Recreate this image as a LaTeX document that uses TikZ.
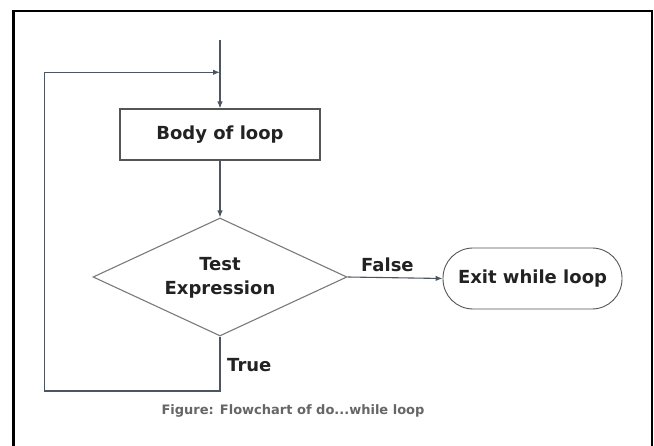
\documentclass[tikz,border=0pt]{standalone}
\usepackage{fontspec}
\setmainfont{DejaVu Sans}
\usetikzlibrary{shapes.geometric,arrows.meta}
\definecolor{flowline}{HTML}{4E5562}
\definecolor{shapeline}{HTML}{555555}
\definecolor{diamline}{HTML}{7A7A7A}
\definecolor{labeltext}{HTML}{222222}
\definecolor{captiontext}{HTML}{666666}
\tikzset{
  flow/.style={draw=flowline, line width=1.1pt},
  arr/.style={flow, -{Latex[length=7pt,width=5.5pt]}},
  lbl/.style={font=\fontsize{18}{21}\selectfont\bfseries, text=labeltext, inner sep=0pt},
  bodybox/.style={draw=shapeline, line width=1.1pt, minimum width=200pt, minimum height=51pt, inner sep=0pt},
  testdiamond/.style={draw=diamline, line width=1.1pt, diamond, aspect=2.15, minimum width=254pt, minimum height=118pt, inner sep=0pt},
  exitbox/.style={draw=shapeline, line width=0.9pt, rounded corners=30pt, minimum width=179pt, minimum height=61pt, inner sep=0pt},
}
\begin{document}
\begin{tikzpicture}[x=1pt, y=-1pt]
  \useasboundingbox (0,0) rectangle (654,446);
  % outer frame, open at the bottom
  \draw[black, line width=2.6pt] (13.3,446) -- (13.3,11) -- (652,11) -- (652,446);

  % shapes
  \node[bodybox] (body) at (220,134.5) {};
  \node[lbl] at (body.center) {Body of loop};
  \node[testdiamond] (test) at (220,277) {};
  \node[lbl, align=center] at (220,278) {Test\\[3pt]Expression};
  \node[exitbox] (exit) at (532.5,278.5) {};
  \node[lbl] at (exit.center) {Exit while loop};

  % connectors
  \coordinate (entry) at (220,40);
  \coordinate (join) at (220,72.3);
  \coordinate (loopbot) at (220,391);
  \coordinate (loopleft) at (44.3,391);
  \coordinate (looptop) at (44.3,72.3);
  \draw[arr] (entry) -- (body.north);
  \draw[arr] (body.south) -- (test.north);
  \draw[flow] (test.south) -- (loopbot) -- (loopleft) -- (looptop);
  \draw[arr] (looptop) -- (join);
  \draw[arr] (test.east) -- (exit.west);

  % branch labels
  \node[lbl, anchor=west] at (227,365) {True};
  \node[lbl, anchor=west] at (361,265) {False};

  % caption
  \node[font=\fontsize{13}{15}\selectfont\bfseries, text=captiontext, inner sep=0pt] (cap) at (293,411) {Figure: Flowchart of do...while loop};
\end{tikzpicture}
\end{document}
